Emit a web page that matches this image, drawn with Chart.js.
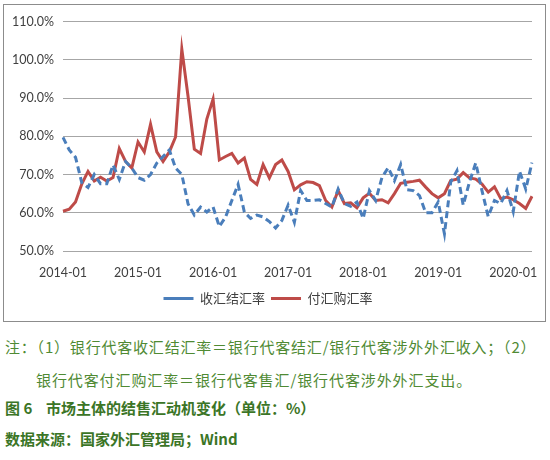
<!DOCTYPE html>
<html>
<head>
<meta charset="utf-8">
<script src="https://cdn.jsdelivr.net/npm/chart.js@4/dist/chart.umd.min.js"></script>
<style>
  body { margin: 0; background: #fff; width: 550px; height: 460px; position: relative; overflow: hidden; }
  #box { position: absolute; left: 3px; top: 4px; width: 541px; height: 316px; border: 1px solid #8c8c8c; }
  #box canvas { display: block; }
  .note { position: absolute; font-family: "Noto Sans CJK SC", sans-serif; font-size: 15px; color: #4f8a33; white-space: nowrap; }
  .bold { font-weight: bold; color: #3b7526; }
</style>
</head>
<body>
<div id="box"><canvas id="c" width="541" height="316"></canvas></div>
<div class="note" style="left:5px; top:336px; letter-spacing:0.8px;">注：（1）银行代客收汇结汇率＝银行代客结汇/银行代客涉外外汇收入；（2）</div>
<div class="note" style="left:36px; top:369px; letter-spacing:0.9px;">银行代客付汇购汇率＝银行代客售汇/银行代客涉外外汇支出。</div>
<div class="note bold" style="left:5px; top:397px;">图 6&nbsp;&nbsp;&nbsp;&nbsp;市场主体的结售汇动机变化（单位：%）</div>
<div class="note bold" style="left:5px; top:428px;">数据来源：国家外汇管理局；Wind</div>
<script>
// monthly, 2014-01 .. 2020-04
const months = [];
for (let y = 2014; y <= 2020; y++) {
  for (let m = 1; m <= 12; m++) {
    if (y === 2020 && m > 4) break;
    months.push(y + '-' + String(m).padStart(2, '0'));
  }
}

// 收汇结汇率 (%)
const settleRate = [
  79.7, 76.4, 74.5, 67.9, 66.6, 70.0, 67.6, 67.6, 72.5, 68.7, 73.4, 71.7,
  69.2, 68.5, 70.0, 73.0, 74.7, 76.4, 71.7, 70.0, 62.3, 59.4, 61.5, 60.2,
  61.5, 56.4, 58.9, 63.2, 67.4, 60.2, 58.5, 59.4, 58.9, 57.7, 56.0, 58.0,
  62.0, 57.5, 65.8, 63.2, 63.2, 63.4, 62.4, 61.5, 66.2, 62.4, 61.7, 62.8,
  58.5, 65.8, 63.2, 69.2, 71.8, 68.4, 72.6, 66.0, 65.8, 64.5, 60.0, 60.0,
  62.8, 54.5, 68.0, 71.0, 62.0, 68.0, 73.0, 65.8, 59.0, 63.2, 62.4, 65.8,
  60.3, 70.9, 66.2, 73.1
];

// 付汇购汇率 (%)
const purchaseRate = [
  60.4, 60.9, 62.8, 67.5, 70.8, 68.3, 69.3, 68.3, 69.2, 76.8, 73.4, 71.7,
  78.5, 75.9, 83.1, 75.9, 73.4, 75.9, 79.8, 102.8, 90.4, 76.6, 75.5, 84.5,
  89.7, 73.8, 74.7, 75.5, 73.0, 74.3, 68.7, 67.4, 72.6, 69.1, 72.6, 73.8,
  70.8, 66.0, 67.3, 68.1, 67.9, 67.1, 63.2, 61.5, 65.8, 62.4, 62.6, 61.3,
  63.9, 65.1, 63.2, 63.4, 62.6, 65.0, 67.7, 68.0, 68.2, 68.5, 66.7, 65.0,
  63.9, 65.0, 68.4, 68.8, 70.5, 69.1, 68.8, 67.5, 65.4, 66.8, 63.7, 64.1,
  63.4, 62.4, 61.1, 64.3
];

const yTicks = [50, 60, 70, 80, 90, 100, 110];

new Chart(document.getElementById('c').getContext('2d'), {
  type: 'line',
  data: {
    labels: months,
    datasets: [
      {
        label: '收汇结汇率',
        data: settleRate,
        borderColor: '#4a7ebb',
        backgroundColor: '#4a7ebb',
        borderWidth: 3,
        borderDash: [7, 4],
        pointRadius: 0,
        tension: 0,
        fill: false
      },
      {
        label: '付汇购汇率',
        data: purchaseRate,
        borderColor: '#be4b48',
        backgroundColor: '#be4b48',
        borderWidth: 3,
        pointRadius: 0,
        tension: 0,
        fill: false
      }
    ]
  },
  options: {
    responsive: false,
    animation: false,
    layout: { padding: { top: 15, right: 13, left: 0, bottom: 6 } },
    plugins: {
      tooltip: { enabled: false },
      legend: {
        position: 'bottom',
        labels: {
          usePointStyle: true,
          pointStyle: 'line',
          pointStyleWidth: 30,
          padding: 6,
          color: '#404040',
          font: { family: '"Noto Sans CJK SC", sans-serif', size: 13 }
        }
      }
    },
    scales: {
      x: {
        grid: { display: false },
        border: { display: false },
        ticks: {
          autoSkip: false,
          maxRotation: 0,
          padding: 6,
          color: '#404040',
          font: { family: 'Lato, sans-serif', size: 12.5 },
          callback: function (v, i) { return i % 12 === 0 ? months[i] : null; }
        },
        afterFit: function (s) { s.height = 35; }
      },
      y: {
        min: 50,
        max: 110,
        afterBuildTicks: function (s) { s.ticks = yTicks.map(v => ({ value: v })); },
        grid: { color: '#a6a6a6', lineWidth: 1, drawTicks: false },
        border: { display: false },
        ticks: {
          padding: 9,
          color: '#404040',
          font: { family: 'Lato, sans-serif', size: 12.5 },
          callback: v => v.toFixed(1) + '%'
        },
        afterFit: function (s) { s.width = 59; }
      }
    }
  }
});
</script>
</body>
</html>
